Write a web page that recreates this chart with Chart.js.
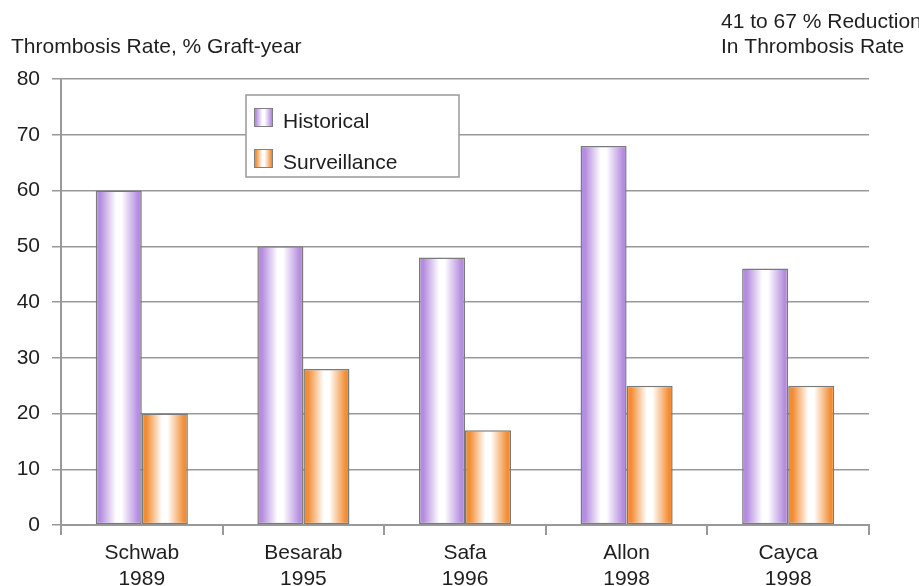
<!DOCTYPE html>
<html>
<head>
<meta charset="utf-8">
<script src="https://cdn.jsdelivr.net/npm/chart.js@4/dist/chart.umd.min.js"></script>
<style>
  html, body { margin: 0; padding: 0; background: #fff; }
  canvas { display: block; }
</style>
</head>
<body>
<canvas id="c" width="919" height="586"></canvas>
<script>
// Studies (author, year) and thrombosis rates in % per graft-year
const studies = ['Schwab', 'Besarab', 'Safa', 'Allon', 'Cayca'];
const years = ['1989', '1995', '1996', '1998', '1998'];
const historical = [60, 50, 48, 68, 46];
const surveillance = [20, 28, 17, 25, 25];
const yTicks = [0, 10, 20, 30, 40, 50, 60, 70, 80];

const FONT = "'Liberation Sans', Arial, Helvetica, sans-serif";
const TEXT = '#1e1e1e';
const LINE = '#999';
const CAT_PCT = 0.57;

const PURPLE = '#b48ddf';
const ORANGE = '#f28d33';

// Cylinder-like shading: coloured edges fading to white in the middle
function shade(g, edge) {
  g.addColorStop(0, edge);
  g.addColorStop(0.1, edge);
  g.addColorStop(0.44, '#ffffff');
  g.addColorStop(0.56, '#ffffff');
  g.addColorStop(0.92, edge);
  g.addColorStop(1, edge);
  return g;
}

function barFill(edge) {
  return function (ctx) {
    const chart = ctx.chart;
    const xs = chart.scales.x;
    if (ctx.type !== 'data' || !xs || !chart.chartArea) return edge;
    const n = chart.data.labels.length;
    const nSets = chart.data.datasets.length;
    const bw = (xs.width / n) * CAT_PCT / nSets;
    const center = xs.getPixelForValue(ctx.dataIndex);
    const x0 = center - (nSets * bw) / 2 + ctx.datasetIndex * bw;
    return shade(chart.ctx.createLinearGradient(x0, 0, x0 + bw, 0), edge);
  };
}

// Boxed legend inside the plot plus the two header captions
const annotations = {
  id: 'annotations',
  afterDatasetsDraw(chart) {
    const c = chart.ctx;
    const a = chart.chartArea;
    c.save();
    // legend box
    const bx = a.left + 185, by = a.top + 16, bwid = 213, bh = 82;
    c.fillStyle = '#fff';
    c.fillRect(bx, by, bwid, bh);
    c.strokeStyle = LINE;
    c.lineWidth = 1.5;
    c.strokeRect(bx, by, bwid, bh);
    const edges = [PURPLE, ORANGE];
    c.font = '21px ' + FONT;
    c.textBaseline = 'middle';
    chart.data.datasets.forEach((ds, i) => {
      const sx = bx + 8, sy = by + 13 + i * 41, s = 19;
      c.fillStyle = shade(c.createLinearGradient(sx, 0, sx + s, 0), edges[i]);
      c.fillRect(sx, sy, s, s);
      c.strokeStyle = '#808080';
      c.lineWidth = 1;
      c.strokeRect(sx + 0.5, sy + 0.5, s - 1, s - 1);
      c.fillStyle = TEXT;
      c.fillText(ds.label, bx + 37, sy + s / 2 + 5);
    });
    // captions
    c.textAlign = 'left';
    c.font = '21px ' + FONT;
    c.fillText('Thrombosis Rate, % Graft-year', 11, 47);
    c.fillText('41 to 67 % Reduction', 721, 22);
    c.fillText('In Thrombosis Rate', 721, 47);
    c.restore();
  }
};

new Chart(document.getElementById('c'), {
  type: 'bar',
  data: {
    labels: studies.map((s, i) => [s, years[i]]),
    datasets: [
      {
        label: 'Historical',
        data: historical,
        backgroundColor: barFill(PURPLE),
        borderColor: '#7a7a7a',
        borderWidth: 1.5,
        borderSkipped: false
      },
      {
        label: 'Surveillance',
        data: surveillance,
        backgroundColor: barFill(ORANGE),
        borderColor: '#7a7a7a',
        borderWidth: 1.5,
        borderSkipped: false
      }
    ]
  },
  options: {
    responsive: false,
    animation: false,
    events: [],
    datasets: { bar: { categoryPercentage: CAT_PCT, barPercentage: 1 } },
    layout: { padding: { left: 0, right: 50, top: 79, bottom: 0 } },
    plugins: { legend: { display: false }, tooltip: { enabled: false }, title: { display: false } },
    scales: {
      x: {
        afterFit(scale) { scale.height = 61; },
        grid: { offset: true, drawOnChartArea: false, tickLength: 10, color: LINE, lineWidth: 2 },
        border: { color: LINE, width: 2 },
        ticks: { color: TEXT, font: { family: FONT, size: 21 }, padding: 6, maxRotation: 0 }
      },
      y: {
        min: yTicks[0],
        max: yTicks[yTicks.length - 1],
        afterFit(scale) { scale.width = 61; },
        afterBuildTicks(scale) { scale.ticks = yTicks.map(v => ({ value: v })); },
        grid: { color: LINE, lineWidth: 1.5, tickLength: 9 },
        border: { color: LINE, width: 2 },
        ticks: { color: TEXT, font: { family: FONT, size: 21 }, padding: 12 }
      }
    }
  },
  plugins: [annotations]
});
</script>
</body>
</html>
